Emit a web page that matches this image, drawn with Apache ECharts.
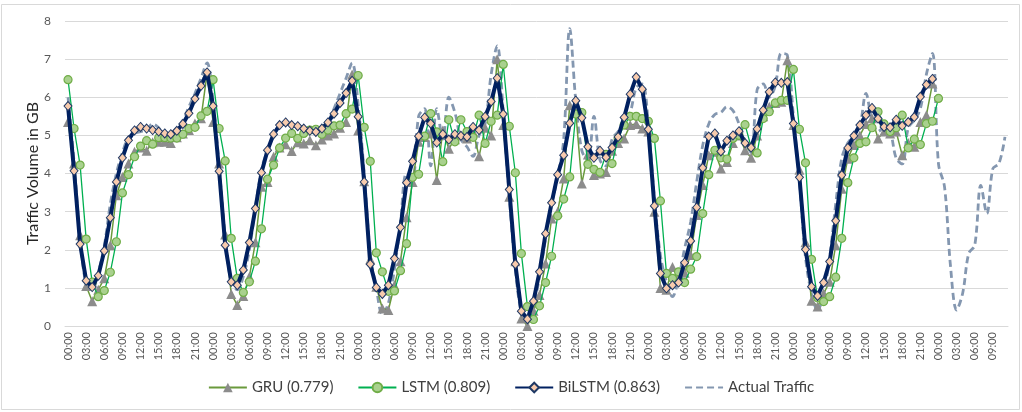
<!DOCTYPE html>
<html>
<head>
<meta charset="utf-8">
<script src="https://cdn.jsdelivr.net/npm/echarts@6/dist/echarts.min.js"></script>
<style>
  body { margin: 0; background: #fff; }
  #chart { width: 1022px; height: 412px; }
</style>
</head>
<body>
<div id="chart"></div>
<script>
// hour labels of one day, the axis runs 6 days + 12 hours
var hours = ['00:00','01:00','02:00','03:00','04:00','05:00','06:00','07:00','08:00','09:00','10:00','11:00',
             '12:00','13:00','14:00','15:00','16:00','17:00','18:00','19:00','20:00','21:00','22:00','23:00'];
var nCats = 156;

var gru = [
  5.35, 4.26, 2.38, 1.05, 0.65, 0.95, 1.25, 2.12, 3.43, 3.91, 4.26, 4.57, 4.68, 4.60, 4.82, 4.83, 4.83, 4.80, 4.95, 5.05, 5.14, 5.31, 5.45, 6.62,
  5.35, 4.26, 2.40, 0.84, 0.55, 0.79, 1.29, 2.20, 3.65, 3.78, 4.44, 4.68, 4.77, 4.59, 4.82, 4.79, 4.87, 4.74, 4.89, 5.00, 5.05, 5.20, 5.35, 6.60,
  5.13, 3.80, 1.75, 1.03, 0.46, 0.42, 1.07, 1.70, 2.85, 3.78, 4.83, 4.96, 5.05, 3.83, 5.13, 4.65, 4.90, 5.00, 4.92, 5.10, 4.45, 5.20, 5.00, 7.00,
  5.27, 3.39, 1.70, 0.20, 0.00, 0.40, 0.81, 1.64, 2.82, 3.00, 3.87, 5.79, 5.60, 3.74, 4.50, 3.96, 4.00, 4.04, 4.60, 4.80, 4.92, 5.27, 5.30, 5.18,
  5.10, 3.00, 1.00, 0.95, 1.55, 1.30, 1.40, 1.86, 2.91, 3.70, 4.48, 4.57, 4.13, 4.30, 4.80, 5.00, 4.61, 4.41, 5.00, 5.50, 5.75, 5.85, 5.88, 6.97,
  5.27, 4.10, 2.20, 0.66, 0.51, 0.85, 1.16, 2.12, 3.60, 4.39, 4.75, 5.00, 5.30, 5.45, 4.92, 5.10, 5.05, 5.10, 4.48, 4.80, 4.70, 5.35, 5.53, 6.36
];
var lstm = [
  6.46, 5.18, 4.22, 2.28, 1.15, 0.77, 0.93, 1.41, 2.21, 3.49, 3.97, 4.44, 4.72, 4.86, 4.77, 4.94, 4.94, 4.93, 4.93, 5.03, 5.18, 5.21, 5.51, 5.63,
  6.46, 5.18, 4.33, 2.30, 1.25, 0.88, 1.16, 1.70, 2.55, 3.85, 4.22, 4.67, 4.93, 5.05, 4.92, 5.05, 5.14, 5.16, 5.03, 5.14, 5.25, 5.27, 5.57, 5.69,
  6.57, 5.21, 4.32, 1.92, 1.42, 0.91, 0.92, 1.45, 2.16, 3.90, 3.98, 4.98, 5.57, 5.09, 4.31, 5.41, 4.83, 5.41, 5.10, 4.95, 5.53, 4.79, 5.37, 5.53,
  6.86, 5.24, 4.02, 1.90, 0.51, 0.17, 0.53, 1.14, 1.83, 2.89, 3.33, 3.91, 5.56, 5.60, 4.24, 4.11, 4.03, 4.50, 4.26, 4.92, 5.27, 5.50, 5.50, 5.44,
  5.37, 4.92, 3.28, 1.38, 1.25, 1.42, 1.14, 1.49, 1.82, 2.95, 3.97, 4.61, 4.41, 4.38, 4.92, 5.00, 5.28, 4.70, 4.54, 5.44, 5.62, 5.85, 5.92, 5.92,
  6.73, 5.16, 4.28, 1.75, 0.74, 0.64, 0.77, 1.28, 2.30, 3.76, 4.41, 4.79, 4.83, 5.20, 5.62, 5.30, 5.10, 5.20, 5.53, 4.67, 4.90, 4.76, 5.31, 5.37,
  5.97
];
var bilstm = [
  5.77, 4.07, 2.15, 1.19, 1.02, 1.32, 1.97, 2.84, 3.78, 4.41, 4.87, 5.13, 5.22, 5.18, 5.14, 5.10, 5.05, 5.03, 5.12, 5.30, 5.58, 5.96, 6.30, 6.65,
  5.77, 4.06, 2.12, 1.16, 1.07, 1.47, 2.19, 3.08, 4.02, 4.61, 5.03, 5.27, 5.34, 5.27, 5.24, 5.18, 5.12, 5.09, 5.18, 5.34, 5.57, 5.85, 6.11, 6.43,
  5.49, 3.78, 1.62, 1.01, 0.84, 1.07, 1.77, 2.59, 3.76, 4.32, 4.98, 5.47, 5.31, 4.81, 5.03, 4.89, 5.03, 4.99, 4.96, 5.22, 5.14, 5.49, 5.89, 6.50,
  5.56, 3.58, 1.62, 0.39, 0.18, 0.65, 1.42, 2.42, 3.23, 3.97, 4.48, 5.32, 5.91, 5.46, 4.70, 4.41, 4.60, 4.42, 4.68, 4.96, 5.47, 6.08, 6.53, 6.21,
  5.16, 3.15, 1.38, 0.99, 1.07, 1.14, 1.66, 2.23, 3.11, 4.15, 4.97, 5.05, 4.58, 4.86, 5.00, 5.11, 4.80, 4.68, 5.17, 5.66, 6.14, 6.39, 6.38, 6.40,
  5.31, 3.90, 2.01, 1.03, 0.79, 1.14, 1.69, 2.76, 3.96, 4.67, 4.99, 5.27, 5.53, 5.72, 5.44, 5.22, 5.21, 5.41, 5.25, 5.35, 5.48, 6.01, 6.33, 6.48
];
var actual = [
  6.00, 4.30, 2.30, 1.10, 0.95, 1.40, 2.10, 3.20, 4.00, 4.55, 4.95, 5.05, 5.10, 5.15, 5.30, 5.20, 5.00, 5.05, 5.20, 5.40, 5.75, 6.10, 6.50, 6.90,
  5.90, 4.20, 2.30, 1.15, 0.95, 1.30, 2.00, 3.10, 4.10, 4.60, 5.00, 5.25, 5.30, 5.30, 5.20, 5.15, 5.10, 5.05, 5.15, 5.35, 5.70, 6.10, 6.50, 6.90,
  5.80, 4.00, 1.90, 1.00, 0.30, 0.60, 1.50, 2.70, 4.00, 3.90, 5.50, 5.70, 4.20, 5.70, 4.90, 6.00, 5.60, 4.90, 4.70, 4.45, 5.00, 5.30, 6.60, 7.35,
  5.60, 3.40, 1.50, 0.35, 0.12, 0.50, 1.30, 2.30, 3.20, 3.90, 4.90, 7.80, 5.90, 4.60, 4.35, 5.50, 4.35, 4.20, 4.90, 5.10, 5.35, 5.60, 6.25, 6.35,
  5.30, 3.35, 1.86, 1.16, 0.77, 1.25, 2.03, 2.73, 3.78, 4.74, 5.30, 5.55, 5.60, 5.75, 5.65, 5.30, 4.85, 4.55, 6.20, 6.35, 6.00, 6.30, 7.15, 7.10,
  5.50, 3.80, 1.80, 0.85, 0.42, 0.85, 1.80, 3.20, 4.40, 4.80, 5.00, 5.25, 6.10, 5.40, 5.10, 5.20, 5.10, 4.40, 4.25, 5.20, 5.40, 5.70, 6.60, 7.15,
  4.25, 3.65, 1.55, 0.42, 0.86, 1.90, 2.12, 3.69, 2.95, 4.13, 4.26, 4.96
];

var categories = [];
for (var i = 0; i < nCats; i++) {
    categories.push(hours[i % 24]);
}

var chart = echarts.init(document.getElementById('chart'));
var font = 'Lato, "Open Sans", sans-serif';

var option = {
    animation: false,
    backgroundColor: '#ffffff',
    textStyle: { fontFamily: font },
    graphic: [{
        type: 'rect',
        shape: { x: 1.5, y: 4.5, width: 1018, height: 405 },
        style: { fill: 'none', stroke: '#d9d9d9', lineWidth: 1 },
        silent: true
    }],
    grid: { left: 65, right: 14, top: 21, bottom: 86 },
    legend: {
        data: [
            'GRU (0.779)', 'LSTM (0.809)', 'BiLSTM (0.863)',
            { name: 'Actual Traffic', itemStyle: { opacity: 0 } }
        ],
        left: 'center',
        top: 375,
        itemWidth: 38,
        itemHeight: 12,
        itemGap: 24,
        textStyle: { fontFamily: font, fontSize: 15, color: '#404040' }
    },
    xAxis: {
        type: 'category',
        data: categories,
        boundaryGap: true,
        axisLine: { lineStyle: { color: '#d9d9d9', width: 1 } },
        axisTick: { show: false },
        axisLabel: {
            interval: 2,
            rotate: 90,
            margin: 6,
            fontSize: 11,
            color: '#595959',
            fontFamily: font
        }
    },
    yAxis: {
        type: 'value',
        min: 0,
        max: 8,
        interval: 1,
        name: 'Traffic Volume in GB',
        nameLocation: 'middle',
        nameGap: 24,
        nameMoveOverlap: false,
        nameTextStyle: { fontSize: 16, color: '#262626', fontFamily: font },
        axisLine: { show: false },
        axisTick: { show: false },
        axisLabel: { fontSize: 12, color: '#595959', margin: 14, fontFamily: font },
        splitLine: { lineStyle: { color: '#d9d9d9', width: 1 } }
    },
    series: [
        {
            name: 'Actual Traffic',
            type: 'line',
            data: actual,
            smooth: 0.35,
            showSymbol: false,
            symbol: 'none',
            z: 1,
            lineStyle: { color: '#8497b0', width: 2.8, type: [7, 4] },
            itemStyle: { color: '#8497b0' }
        },
        {
            name: 'GRU (0.779)',
            type: 'line',
            data: gru,
            symbol: 'triangle',
            symbolSize: 10,
            showAllSymbol: true,
            z: 2,
            lineStyle: { color: '#6a9a3c', width: 1.5 },
            itemStyle: { color: '#8c8c8c', borderColor: '#8c8c8c', borderWidth: 0 }
        },
        {
            name: 'LSTM (0.809)',
            type: 'line',
            data: lstm,
            symbol: 'circle',
            symbolSize: 8,
            showAllSymbol: true,
            z: 3,
            lineStyle: { color: '#00b050', width: 1.3 },
            itemStyle: { color: '#a9d18e', borderColor: '#70ad47', borderWidth: 1.2 }
        },
        {
            name: 'BiLSTM (0.863)',
            type: 'line',
            data: bilstm,
            symbol: 'diamond',
            symbolSize: [8, 9],
            showAllSymbol: true,
            z: 4,
            lineStyle: { color: '#002060', width: 4 },
            itemStyle: { color: '#f8cbad', borderColor: '#1f3864', borderWidth: 1 }
        }
    ]
};

chart.setOption(option);
</script>
</body>
</html>
